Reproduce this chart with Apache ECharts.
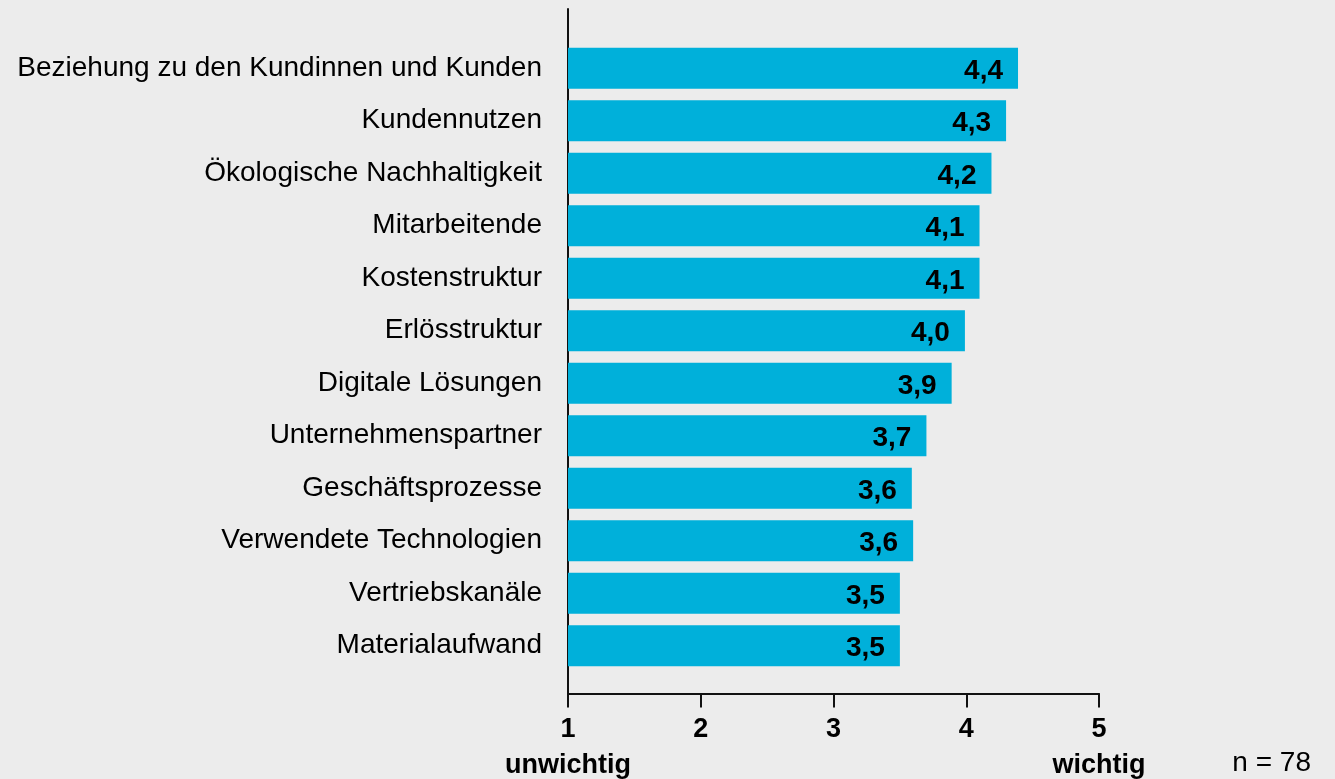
<!DOCTYPE html>
<html>
<head>
<meta charset="utf-8">
<script src="https://cdn.jsdelivr.net/npm/echarts@6/dist/echarts.min.js"></script>
<style>
  html, body { margin: 0; padding: 0; background: #ececec; }
  #chart { width: 1335px; height: 779px; }
</style>
</head>
<body>
<div id="chart"></div>
<script>
// Kategorien von oben nach unten
const categories = [
  'Beziehung zu den Kundinnen und Kunden',
  'Kundennutzen',
  'Ökologische Nachhaltigkeit',
  'Mitarbeitende',
  'Kostenstruktur',
  'Erlösstruktur',
  'Digitale Lösungen',
  'Unternehmenspartner',
  'Geschäftsprozesse',
  'Verwendete Technologien',
  'Vertriebskanäle',
  'Materialaufwand'
]
// Mittelwerte (1 = unwichtig, 5 = wichtig)
const values = [4.39, 4.30, 4.19, 4.10, 4.10, 3.99, 3.89, 3.70, 3.59, 3.60, 3.50, 3.50]
const scaleMin = 1
const scaleMax = 5
const endLabels = { 1: 'unwichtig', 5: 'wichtig' }
const sampleNote = 'n = 78'

const font = "'Liberation Sans', Arial, Helvetica, sans-serif"
const chart = echarts.init(document.getElementById('chart'))

chart.setOption({
  backgroundColor: '#ececec',
  animation: false,
  textStyle: { fontFamily: font },
  grid: [
    // Balken
    { left: 568, right: 236, top: 42, bottom: 107 },
    // Achsenrahmen
    { left: 568, right: 236, top: 9, bottom: 83 }
  ],
  xAxis: [
    { gridIndex: 0, type: 'value', min: scaleMin, max: scaleMax, show: false },
    {
      gridIndex: 1,
      type: 'value',
      min: scaleMin,
      max: scaleMax,
      interval: 1,
      splitLine: { show: false },
      axisLine: { show: true, onZero: false, lineStyle: { color: '#111', width: 2 } },
      axisTick: { show: true, length: 14, lineStyle: { color: '#111', width: 2 } },
      axisLabel: {
        margin: 18,
        color: '#000',
        formatter: (v) => endLabels[v] ? '{b|' + v + '}\n{s|' + endLabels[v] + '}' : '{b|' + v + '}',
        rich: {
          b: { fontFamily: font, fontSize: 27, fontWeight: 'bold', color: '#000', lineHeight: 36 },
          s: { fontFamily: font, fontSize: 27, fontWeight: 'bold', color: '#000', lineHeight: 36 }
        }
      }
    }
  ],
  yAxis: [
    {
      gridIndex: 0,
      type: 'category',
      inverse: true,
      data: categories,
      axisLine: { show: false },
      axisTick: { show: false },
      axisLabel: { margin: 26, color: '#000', fontSize: 28, fontFamily: font, padding: [6, 0, 0, 0] }
    },
    {
      gridIndex: 1,
      type: 'value',
      splitLine: { show: false },
      axisTick: { show: false },
      axisLabel: { show: false },
      axisLine: { show: true, onZero: false, lineStyle: { color: '#111', width: 2 } }
    }
  ],
  series: [
    {
      type: 'bar',
      xAxisIndex: 0,
      yAxisIndex: 0,
      data: values,
      barWidth: 41,
      itemStyle: { color: '#00b0da' },
      label: {
        show: true,
        position: 'insideRight',
        distance: 15,
        offset: [0, 3],
        color: '#000',
        fontSize: 28,
        fontWeight: 'bold',
        fontFamily: font,
        formatter: (p) => p.value.toFixed(1).replace('.', ',')
      }
    }
  ],
  graphic: [
    {
      type: 'text',
      right: 24,
      bottom: 2,
      style: { text: sampleNote, fill: '#000', font: '28px ' + font }
    }
  ]
})
</script>
</body>
</html>
